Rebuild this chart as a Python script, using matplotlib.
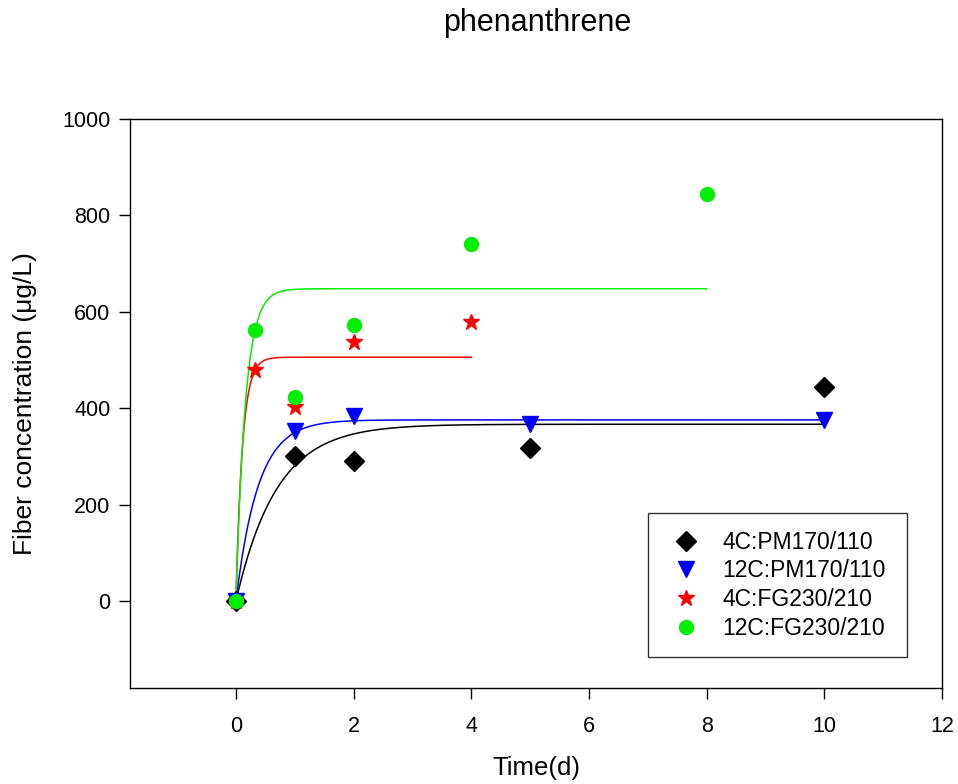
import numpy as np
import matplotlib
matplotlib.use("Agg")
import matplotlib.pyplot as plt

plt.rcParams['font.family'] = ['Liberation Sans', 'DejaVu Sans']

# Measured data
t_black = [0, 1, 2, 5, 10]
c_black = [0, 302, 290, 318, 444]
t_blue = [0, 1, 2, 5, 10]
c_blue = [0, 352, 385, 368, 375]
t_red = [0, 0.33, 1, 2, 4]
c_red = [0, 480, 403, 538, 578]
t_green = [0, 0.33, 1, 2, 4, 8]
c_green = [0, 563, 424, 573, 740, 845]

labels = ["4C:PM170/110", "12C:PM170/110", "4C:FG230/210", "12C:FG230/210"]

# First-order fit parameters (Cmax, k, t_end)
fit_black = (367, 1.45, 10)
fit_blue = (376, 2.66, 10)
fit_red = (506, 9.0, 4)
fit_green = (648, 6.2, 8)

fig = plt.figure(figsize=(9.58, 7.84), dpi=100)
ax = fig.add_axes([130/958, 1-688/784, (942-130)/958, (688-119)/784])

series = [
    (t_black, c_black, fit_black, 'black', 'D', 10),
    (t_blue, c_blue, fit_blue, '#0000ff', 'v', 11),
    (t_red, c_red, fit_red, '#ff0000', '*', 12),
    (t_green, c_green, fit_green, '#00ee00', 'o', 10),
]

for (t, c, fit, col, mk, ms), lab in zip(series, labels):
    cmax, k, tend = fit
    tt = np.linspace(0, tend, 400)
    ax.plot(tt, cmax*(1-np.exp(-k*tt)), color=col, lw=1.1, zorder=2)
for (t, c, fit, col, mk, ms), lab in zip(series, labels):
    ax.plot(t, c, linestyle='none', marker=mk, markersize=ms, color=col,
            markeredgecolor=col, label=lab, zorder=3)

ax.set_xlim(-1.8, 12)
ax.set_ylim(-180, 1000)
ax.set_xticks([0, 2, 4, 6, 8, 10, 12])
ax.set_yticks([0, 200, 400, 600, 800, 1000])
ax.tick_params(direction='out', length=8, width=1, labelsize=15.5,
               top=False, right=False)
ax.tick_params(axis='x', pad=12)
ax.tick_params(axis='y', pad=6)
for s in ax.spines.values():
    s.set_linewidth(1)

ax.set_xlabel("Time(d)", fontsize=18.5, labelpad=14)
ax.set_ylabel("Fiber concentration (\u03bcg/L)", fontsize=19, labelpad=18)
fig.text(537/958, 1-23/784, "phenanthrene", ha='center', va='center', fontsize=22)

leg = ax.legend(loc='lower left', bbox_to_anchor=((648-130)/812, (688-657)/569,
                (907-648)/812, (657-513)/569), mode='expand',
                frameon=True, fancybox=False, edgecolor='black', fontsize=16.5,
                borderpad=0.75, handletextpad=0.7, labelspacing=0.25,
                handlelength=1.8, borderaxespad=0)
leg.get_frame().set_linewidth(1)

fig.savefig("out.png", dpi=100)
